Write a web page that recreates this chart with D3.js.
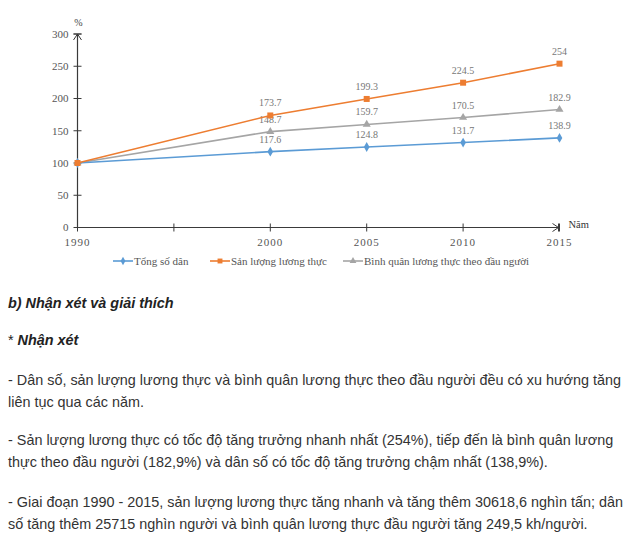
<!DOCTYPE html>
<html>
<head>
<meta charset="utf-8">
<script src="https://cdn.jsdelivr.net/npm/d3@7"></script>
<style>
  body { margin: 0; background: #fff; }
  svg { display: block; }
</style>
</head>
<body>
<svg id="chart" width="644" height="548"></svg>
<script>
let years = [1990, 2000, 2005, 2010, 2015];
let tongSoDan = [100, 117.6, 124.8, 131.7, 138.9];
let sanLuong = [100, 173.7, 199.3, 224.5, 254];
let binhQuan = [100, 148.7, 159.7, 170.5, 182.9];
let yTicks = [0, 50, 100, 150, 200, 250, 300];
let xTicks = [1990, 1995, 2000, 2005, 2010, 2015];
let xLabels = [1990, 2000, 2005, 2010, 2015];

let seriesNames = ["Tổng số dân", "Sản lượng lương thực", "Bình quân lương thực theo đầu người"];

let paragraphs = [
    ["- Dân số, sản lượng lương thực và bình quân lương thực theo đầu người đều có xu hướng tăng",
     "liên tục qua các năm."],
    ["- Sản lượng lương thực có tốc độ tăng trưởng nhanh nhất (254%), tiếp đến là bình quân lương",
     "thực theo đầu người (182,9%) và dân số có tốc độ tăng trưởng chậm nhất (138,9%)."],
    ["- Giai đoạn 1990 - 2015, sản lượng lương thực tăng nhanh và tăng thêm 30618,6 nghìn tấn; dân",
     "số tăng thêm 25715 nghìn người và bình quân lương thực đầu người tăng 249,5 kh/người."]
];

let svg = d3.select("#chart");

let x = d3.scaleLinear([1990, 2015], [77.5, 559.5]);
let y = d3.scaleLinear([0, 300], [227.5, 34]);

let axisColor = "#3a3a3a";
let serif = "'Liberation Serif', 'DejaVu Serif', serif";

let series = [
    {name: seriesNames[0], values: tongSoDan, color: "#5b9bd5", shape: "diamond"},
    {name: seriesNames[1], values: sanLuong, color: "#ed7d31", shape: "square"},
    {name: seriesNames[2], values: binhQuan, color: "#a5a5a5", shape: "triangle"}
];

// axes
let yAxis = svg.append("g").attr("transform", `translate(${x(1990)},0)`);
yAxis.append("line")
    .attr("y1", y(0)).attr("y2", y(300))
    .attr("stroke", axisColor).attr("stroke-width", 1.2);
yAxis.selectAll(".yt").data(yTicks).join("line")
    .attr("x1", -4).attr("x2", 4)
    .attr("y1", d => y(d)).attr("y2", d => y(d))
    .attr("stroke", axisColor);
yAxis.selectAll(".yl").data(yTicks).join("text")
    .attr("x", -9).attr("y", d => y(d)).attr("dy", "0.35em")
    .attr("text-anchor", "end")
    .style("font", `11px ${serif}`).attr("fill", "#555")
    .text(d => d);
// arrow on y axis
yAxis.append("path")
    .attr("d", `M-4,${y(300) + 6} L0,${y(300)} L4,${y(300) + 6} M-4,${y(300)} L4,${y(300)}`)
    .attr("fill", "none").attr("stroke", axisColor);
yAxis.append("text")
    .attr("x", 1).attr("y", y(300) - 8)
    .attr("text-anchor", "middle")
    .style("font", `10px ${serif}`).attr("fill", "#444")
    .text("%");

let xAxis = svg.append("g").attr("transform", `translate(0,${y(0)})`);
xAxis.append("line")
    .attr("x1", x(1990)).attr("x2", x(2015))
    .attr("stroke", axisColor).attr("stroke-width", 1.2);
xAxis.selectAll(".xt").data(xTicks).join("line")
    .attr("x1", d => x(d)).attr("x2", d => x(d))
    .attr("y1", -4).attr("y2", 4)
    .attr("stroke", axisColor);
xAxis.selectAll(".xl").data(xLabels).join("text")
    .attr("x", d => x(d)).attr("y", 18)
    .attr("text-anchor", "middle")
    .style("font", `11px ${serif}`).style("letter-spacing", "1px")
    .attr("fill", "#555")
    .text(d => d);
// arrow on x axis
xAxis.append("path")
    .attr("d", `M${x(2015) - 7},-4 L${x(2015) - 1},0 L${x(2015) - 7},4 M${x(2015) - 1},-4 L${x(2015) - 1},4`)
    .attr("fill", "none").attr("stroke", axisColor);
xAxis.append("text")
    .attr("x", x(2015) + 9).attr("y", 0)
    .style("font", `10.5px ${serif}`).attr("fill", "#333")
    .text("Năm");

// lines
let line = d3.line().x((d, i) => x(years[i])).y(d => y(d));

function marker(sel, shape, color, size)
{
    let sym = shape === "square" ? d3.symbolSquare : shape === "triangle" ? d3.symbolTriangle : d3.symbolDiamond;
    sel.append("path")
        .attr("d", d3.symbol(sym, size)())
        .attr("fill", color);
}

// draw in order: gray, blue, orange
[series[2], series[0], series[1]].forEach(s =>
{
    svg.append("path")
        .attr("d", line(s.values))
        .attr("fill", "none")
        .attr("stroke", s.color)
        .attr("stroke-width", 1.6);

    s.values.forEach((v, i) =>
    {
        let g = svg.append("g").attr("transform", `translate(${x(years[i])},${y(v)})`);
        marker(g, s.shape, s.color, s.shape === "square" ? 36 : 28);
        if (i > 0)
        {
            g.append("text")
                .attr("y", -9)
                .attr("text-anchor", "middle")
                .style("font", `10px ${serif}`)
                .attr("fill", "#777")
                .text(v);
        }
    });
});

// legend
let legendX = [113, 210, 343];
series.forEach((s, i) =>
{
    let g = svg.append("g").attr("transform", `translate(${legendX[i]},261)`);
    g.append("line").attr("x1", 0).attr("x2", 20).attr("stroke", s.color).attr("stroke-width", 1.6);
    let m = g.append("g").attr("transform", "translate(10,0)");
    marker(m, s.shape, s.color, s.shape === "square" ? 24 : 20);
    g.append("text")
        .attr("x", 21).attr("y", 0).attr("dy", "0.35em")
        .style("font", `11px ${serif}`).attr("fill", "#555")
        .text(s.name);
});

// text block
let sans = "'Liberation Sans', Arial, sans-serif";
let fs = 14.4;
svg.append("text")
    .attr("x", 8).attr("y", 308)
    .style("font", `italic bold ${fs}px ${sans}`).attr("fill", "#222")
    .text("b) Nhận xét và giải thích");
let star = svg.append("text")
    .attr("x", 8).attr("y", 345)
    .style("font", `${fs}px ${sans}`).attr("fill", "#222");
star.append("tspan").text("* ");
star.append("tspan").style("font-weight", "bold").style("font-style", "italic").text("Nhận xét");

let paraY = [385, 445, 507];
let lineGap = 21.5;
paragraphs.forEach((p, i) =>
{
    p.forEach((t, j) =>
    {
        svg.append("text")
            .attr("x", 8).attr("y", paraY[i] + j * lineGap)
            .style("font", `${fs}px ${sans}`).attr("fill", "#333")
            .text(t);
    });
});
</script>
</body>
</html>
